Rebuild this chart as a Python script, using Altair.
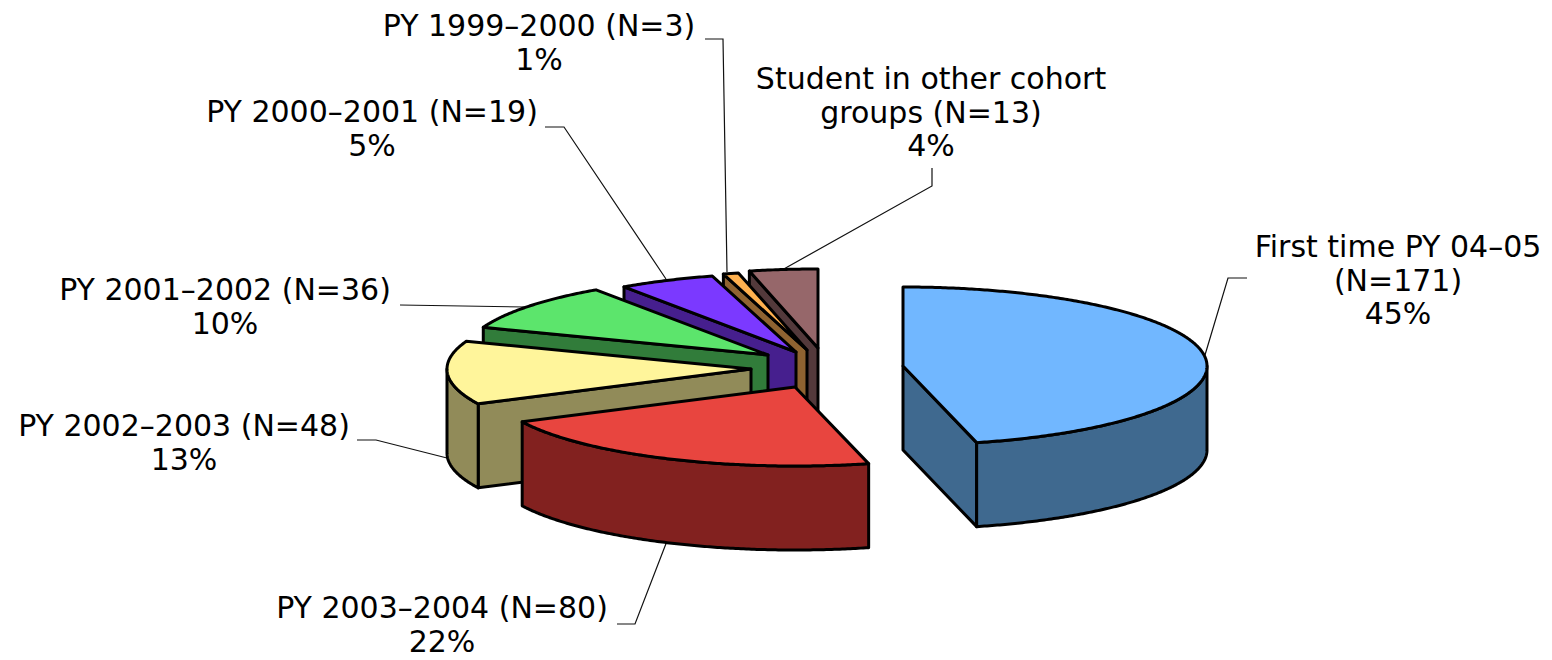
import math
import altair as alt
import pandas as pd

# ---- data ----
names = ["First time PY 04–05", "PY 2003–2004", "PY 2002–2003", "PY 2001–2002",
         "PY 2000–2001", "PY 1999–2000", "Student in other cohort groups"]
counts = [171, 80, 48, 36, 19, 3, 13]
top_colors = ["#71B7FF", "#E8453F", "#FFF59B", "#5CE56C", "#7B39FF", "#FFB14F", "#96676A"]
side_colors = ["#3F698F", "#82211F", "#918B59", "#317C3A", "#461F8E", "#8F6331", "#53393B"]
apex_x = [895, 787, 743, 760, 788, 799, 810]
apex_y = [358, 379, 361, 347, 344, 342, 340]

label_lines = [
    ["First time PY 04–05", "(N=171)", "45%"],
    ["PY 2003–2004 (N=80)", "22%"],
    ["PY 2002–2003 (N=48)", "13%"],
    ["PY 2001–2002 (N=36)", "10%"],
    ["PY 2000–2001 (N=19)", "5%"],
    ["PY 1999–2000 (N=3)", "1%"],
    ["Student in other cohort", "groups (N=13)", "4%"],
]
label_x = [1390, 434, 176, 217, 364, 531, 923]
label_y = [249, 610, 428, 292, 114, 28, 81]
leaders = [
    [(1239, 270), (1220, 270), (1197, 347)],
    [(609, 616), (627, 616), (659, 533)],
    [(349, 432), (368, 432), (439, 450)],
    [(392, 297), (517, 299)],
    [(537, 119), (556, 119), (658, 271)],
    [(697, 31), (715, 31), (719, 264)],
    [(924, 160), (924, 178), (774, 262)],
]

W, H = 1536, 652
A, B, DEPTH = 304, 79, 84
TURN = -0.4
LINE_H = 33.7
FONT = "DejaVu Sans"
FONT_SIZE = 30


def rim(cx, cy, deg):
    t = math.radians(deg)
    return (cx + A * math.sin(t), cy - B * math.cos(t))


def arc(cx, cy, a0, a1):
    n = max(2, int(abs(a1 - a0)) * 2)
    return [rim(cx, cy, a0 + (a1 - a0) * i / n) for i in range(n + 1)]


def feature(points, fill):
    ring = [list(p) for p in points] + [list(points[0])]
    return {"type": "Feature", "properties": {"fill": fill},
            "geometry": {"type": "Polygon", "coordinates": [ring]}}


def down(points):
    return [(x, y + DEPTH) for x, y in points]


total = sum(counts)
edges = [0.0]
running = 0
for c in counts:
    running += c
    edges.append(360.0 * running / total + (TURN if running < total else 0))

# painter's order: back slices first, the large blue slice last
features = []
for i in [6, 5, 4, 3, 2, 1, 0]:
    cx, cy = apex_x[i], apex_y[i]
    a0, a1 = edges[i], edges[i + 1]
    side, top = side_colors[i], top_colors[i]
    if 180 < a0 < 360:  # start cut face looks at the viewer
        pts = [(cx, cy), rim(cx, cy, a0)]
        features.append(feature(pts + down(pts)[::-1], side))
    if 0 < a1 < 180:  # end cut face looks at the viewer
        pts = [(cx, cy), rim(cx, cy, a1)]
        features.append(feature(pts + down(pts)[::-1], side))
    lo, hi = max(a0, 90), min(a1, 270)
    if lo < hi:  # outer wall
        pts = arc(cx, cy, lo, hi)
        features.append(feature(pts + down(pts)[::-1], side))
    features.append(feature([(cx, cy)] + arc(cx, cy, a0, a1), top))

slices = alt.Chart(
    alt.InlineData(values={"type": "FeatureCollection", "features": features},
                   format=alt.DataFormat(property="features", type="json"))
).mark_geoshape(stroke="black", strokeWidth=3, strokeJoin="round").encode(
    fill=alt.Color("properties.fill:N", scale=None)
).project(type="identity", scale=1, translate=[0, 0])

x_scale = alt.Scale(domain=[0, W], range=[0, W])
y_scale = alt.Scale(domain=[0, H], range=[0, H])

rows = []
for i, pts in enumerate(leaders):
    for j, (x, y) in enumerate(pts):
        rows.append({"id": i, "o": j, "x": x, "y": y})
leader_marks = alt.Chart(pd.DataFrame(rows)).mark_line(
    color="#111111", strokeWidth=1.2
).encode(
    x=alt.X("x:Q", scale=x_scale, axis=None),
    y=alt.Y("y:Q", scale=y_scale, axis=None),
    detail="id:N",
    order="o:O",
)

rows = []
for i, lines in enumerate(label_lines):
    for j, line in enumerate(lines):
        rows.append({"t": line, "x": label_x[i], "y": label_y[i] + j * LINE_H})
text_marks = alt.Chart(pd.DataFrame(rows)).mark_text(
    font=FONT, fontSize=FONT_SIZE, align="center", baseline="alphabetic", color="black"
).encode(
    x=alt.X("x:Q", scale=x_scale, axis=None),
    y=alt.Y("y:Q", scale=y_scale, axis=None),
    text="t:N",
)

chart = alt.layer(leader_marks, slices, text_marks).resolve_scale(
    x="shared", y="shared"
).properties(
    width=W, height=H, padding=0, autosize=alt.AutoSizeParams(type="none")
).configure_view(stroke=None)

chart.save("out.html", embed_options={"renderer": "svg", "actions": False})
